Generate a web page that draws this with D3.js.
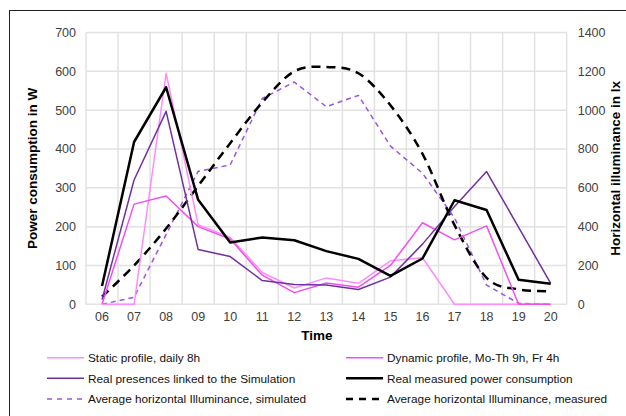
<!DOCTYPE html>
<html><head><meta charset="utf-8">
<script src="https://cdn.jsdelivr.net/npm/d3@7"></script>
<style>body{margin:0;background:#fff}svg{display:block;font-family:"Liberation Sans",Arial,sans-serif}</style>
</head><body><svg id="c" width="626" height="416"></svg>
<script>
const hours = ["06","07","08","09","10","11","12","13","14","15","16","17","18","19","20"];
const staticProfile = [0, 0, 595, 205, 172, 82, 42, 68, 54, 112, 120, 0, 0, 0, 0];
const dynamicProfile = [0, 258, 279, 200, 168, 75, 30, 55, 44, 100, 210, 166, 202, 0, 0];
const realPresences = [12, 320, 497, 141, 123, 61, 51, 50, 38, 70, 155, 252, 342, 198, 54];
const realMeasured = [47, 418, 559, 269, 159, 172, 165, 137, 117, 73, 118, 268, 243, 63, 53];
const illumSimulated = [0, 36, 360, 685, 718, 1060, 1145, 1018, 1076, 815, 675, 445, 99, 5, 0];
const illumMeasured = [39, 200, 390, 610, 830, 1040, 1200, 1222, 1190, 1025, 775, 408, 136, 77, 68];
const leftTicks = [0,100,200,300,400,500,600,700];
const rightTicks = [0,200,400,600,800,1000,1200,1400];

const svg = d3.select("#c");
const L = 86, R = 566.7, T = 32.5, B = 304.3;
const x = d3.scaleBand().domain(hours).range([L, R]).padding(0);
const yL = d3.scaleLinear().domain([0,700]).range([B, T]);
const yR = d3.scaleLinear().domain([0,1400]).range([B, T]);
const cx = h => x(h) + x.bandwidth()/2;

// outer frame
svg.append("rect").attr("x",9.5).attr("y",10.5).attr("width",700).attr("height",500)
  .attr("fill","none").attr("stroke","#222").attr("stroke-width",1);

// gridlines
const grid = svg.append("g").attr("stroke","#e2e2e2").attr("stroke-width",1.5);
leftTicks.forEach(t => grid.append("line").attr("x1",L).attr("x2",R).attr("y1",yL(t)).attr("y2",yL(t)));
hours.forEach(h => grid.append("line").attr("x1",x(h)).attr("x2",x(h)).attr("y1",T).attr("y2",B));
grid.append("line").attr("x1",R).attr("x2",R).attr("y1",T).attr("y2",B);

// axes
const axL = svg.append("g").attr("transform",`translate(${L},0)`)
  .call(d3.axisLeft(yL).tickValues(leftTicks).tickFormat(d3.format("d")).tickSize(0).tickPadding(10));
const axR = svg.append("g").attr("transform",`translate(${R},0)`)
  .call(d3.axisRight(yR).tickValues(rightTicks).tickFormat(d3.format("d")).tickSize(0).tickPadding(11));
const axB = svg.append("g").attr("transform",`translate(0,${B})`)
  .call(d3.axisBottom(x).tickSize(0).tickPadding(8));
[axL,axR,axB].forEach(a => {
  a.select(".domain").remove();
  a.selectAll("text").attr("font-size","12.5px").attr("fill","#404040")
    .attr("font-family","'Liberation Sans',Arial,sans-serif");
});

// titles
svg.append("text").attr("transform",`translate(37,${(T+B)/2}) rotate(-90)`)
  .attr("text-anchor","middle").attr("font-weight","bold").attr("font-size","13.5px").text("Power consumption in W");
svg.append("text").attr("transform",`translate(620,${(T+B)/2}) rotate(-90)`)
  .attr("text-anchor","middle").attr("font-weight","bold").attr("font-size","13.5px").text("Horizontal illuminance in lx");
svg.append("text").attr("x",317).attr("y",340).attr("text-anchor","middle")
  .attr("font-weight","bold").attr("font-size","13.5px").text("Time");

const series = [
  {name:"Static profile, daily 8h", data:staticProfile, y:yL, color:"#ff8cff", w:1.5, dash:null, curve:d3.curveLinear},
  {name:"Dynamic profile, Mo-Th 9h, Fr 4h", data:dynamicProfile, y:yL, color:"#f050f0", w:1.5, dash:null, curve:d3.curveLinear},
  {name:"Real presences linked to the Simulation", data:realPresences, y:yL, color:"#7030a0", w:1.5, dash:null, curve:d3.curveLinear},
  {name:"Real measured power consumption", data:realMeasured, y:yL, color:"#000", w:2.5, dash:null, curve:d3.curveLinear},
  {name:"Average horizontal Illuminance, simulated", data:illumSimulated, y:yR, color:"#9955dd", w:1.5, dash:"5,4", curve:d3.curveLinear},
  {name:"Average horizontal Illuminance, measured", data:illumMeasured, y:yR, color:"#000", w:2.5, dash:"9,6", curve:d3.curveCardinal.tension(0)}
];
const drawOrder = [4,5,0,1,2,3];
drawOrder.forEach(i => {
  const s = series[i];
  const line = d3.line().x((d,j)=>cx(hours[j])).y(d=>s.y(d)).curve(s.curve);
  svg.append("path").attr("d", line(s.data)).attr("fill","none")
    .attr("stroke", s.color).attr("stroke-width", s.w)
    .attr("stroke-dasharray", s.dash).attr("stroke-linejoin","round");
});

// legend
const legPos = [[47,357.7],[346,357.7],[47,378.3],[346,378.3],[47,399],[346,399]];
series.forEach((s,i) => {
  const [lx,ly] = legPos[i];
  svg.append("line").attr("x1",lx).attr("x2",lx+37).attr("y1",ly).attr("y2",ly)
    .attr("stroke",s.color).attr("stroke-width",s.w)
    .attr("stroke-dasharray", s.dash ? (s.w>2 ? "7,6" : "5,5") : null);
  svg.append("text").attr("x",lx+41).attr("y",ly+4.3).attr("font-size","11.8px").attr("fill","#111").text(s.name);
});
</script></body></html>
